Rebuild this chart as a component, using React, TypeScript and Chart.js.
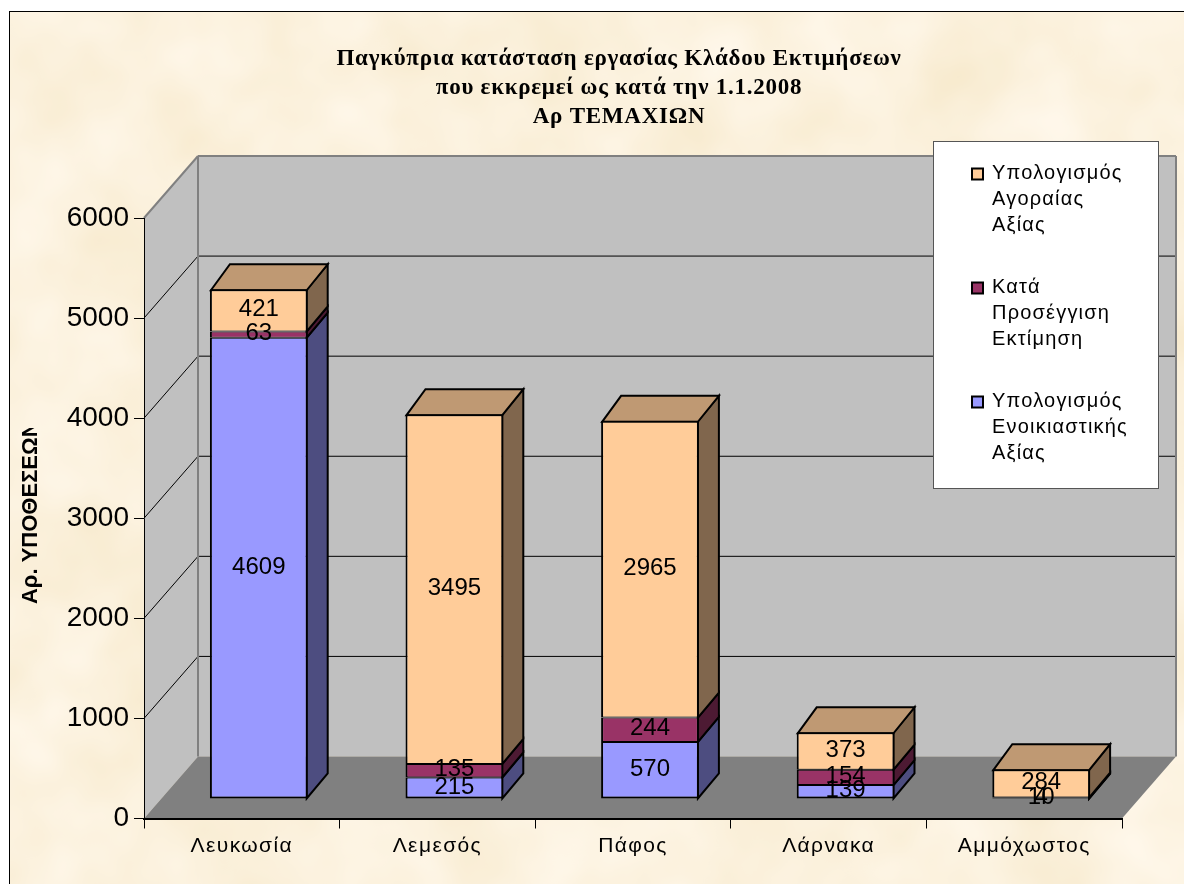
import React, { useEffect, useRef } from "react";
import { Chart, registerables } from "chart.js";

Chart.register(...registerables);

const categories = ["Λευκωσία", "Λεμεσός", "Πάφος", "Λάρνακα", "Αμμόχωστος"];
const rentValues = [4609, 215, 570, 139, 4];
const approxValues = [63, 135, 244, 154, 10];
const marketValues = [421, 3495, 2965, 373, 284];
const titleLines = [
  "Παγκύπρια κατάσταση εργασίας Κλάδου Εκτιμήσεων",
  "που εκκρεμεί ως κατά την 1.1.2008",
  "Αρ ΤΕΜΑΧΙΩΝ",
];
const yTitle = "Αρ. ΥΠΟΘΕΣΕΩΝ";
const rentLines = ["Υπολογισμός", "Ενοικιαστικής", "Αξίας"];
const approxLines = ["Κατά", "Προσέγγιση", "Εκτίμηση"];
const marketLines = ["Υπολογισμός", "Αγοραίας", "Αξίας"];

const SANS = '"Liberation Sans", Arial, sans-serif';
const WALL = { x: 54, y: -62 };
const BAR_SHIFT = { x: 17, y: -19.5 };
const BAR_DEPTH = { x: 20, y: -25 };

const poly = (ctx: any, pts: number[][], fill: string | null, stroke?: string, lw = 1) => {
  ctx.beginPath();
  pts.forEach((p, i) => (i ? ctx.lineTo(p[0], p[1]) : ctx.moveTo(p[0], p[1])));
  ctx.closePath();
  if (fill) {
    ctx.fillStyle = fill;
    ctx.fill();
  }
  if (stroke) {
    ctx.strokeStyle = stroke;
    ctx.lineWidth = lw;
    ctx.lineJoin = "miter";
    ctx.stroke();
  }
};

const seg = (ctx: any, a: number[], b: number[], color: string, lw: number) => {
  ctx.beginPath();
  ctx.moveTo(a[0], a[1]);
  ctx.lineTo(b[0], b[1]);
  ctx.strokeStyle = color;
  ctx.lineWidth = lw;
  ctx.stroke();
};

const wrapped = new WeakSet();

const scene3d = {
  id: "scene3d",
  afterLayout(chart: any) {
    const t = chart.titleBlock;
    t.left = 19;
    t.right = 1219;
    const { x, y } = chart.scales;
    if (wrapped.has(x)) return;
    wrapped.add(x);
    const ctx = chart.ctx;
    const tdraw = t.draw.bind(t);
    t.draw = () => {
      ctx.save();
      ctx.letterSpacing = "0.75px";
      tdraw();
      ctx.restore();
    };
    const dl = x.drawLabels.bind(x);
    x.drawLabels = (a: any) => {
      ctx.save();
      ctx.letterSpacing = "1.4px";
      dl(a);
      ctx.restore();
    };
    const dt = y.drawTitle.bind(y);
    y.drawTitle = () => {
      ctx.save();
      ctx.beginPath();
      ctx.rect(0, 428, 100, 300);
      ctx.clip();
      ctx.translate(-2.5, -5.5);
      dt();
      ctx.restore();
    };
  },
  beforeDraw(chart: any) {
    const ctx = chart.ctx;
    const { left, right, bottom } = chart.chartArea;
    const y = chart.scales.y;
    const top = y.getPixelForValue(6000);
    ctx.save();
    ctx.strokeStyle = "#000";
    ctx.lineWidth = 1;
    ctx.strokeRect(9.5, 11.5, 1300, 1000);
    // left wall, back wall, floor
    poly(ctx, [[left, top], [left + WALL.x, top + WALL.y], [left + WALL.x, bottom + WALL.y], [left, bottom]], "#C0C0C0");
    poly(ctx, [[left + WALL.x, top + WALL.y], [right + WALL.x, top + WALL.y], [right + WALL.x, bottom + WALL.y], [left + WALL.x, bottom + WALL.y]], "#C0C0C0");
    poly(ctx, [[left, bottom], [right, bottom], [right + WALL.x, bottom + WALL.y], [left + WALL.x, bottom + WALL.y]], "#808080");
    // grid lines
    y.ticks.forEach((t: any) => {
      if (t.value === 0 || t.value === 6000) return;
      const py = y.getPixelForValue(t.value);
      seg(ctx, [left, py], [left + WALL.x, py + WALL.y], "#000", 1);
      seg(ctx, [left + WALL.x, py + WALL.y], [right + WALL.x, py + WALL.y], "#000", 1);
    });
    // wall outlines
    seg(ctx, [left, top], [left + WALL.x, top + WALL.y], "#808080", 2);
    seg(ctx, [left + WALL.x, top + WALL.y], [right + WALL.x, top + WALL.y], "#808080", 2);
    seg(ctx, [left + WALL.x, top + WALL.y], [left + WALL.x, bottom + WALL.y], "#808080", 2);
    seg(ctx, [right + WALL.x, top + WALL.y], [right + WALL.x, bottom + WALL.y], "#808080", 2);
    ctx.restore();
  },
  beforeDatasetsDraw(chart: any) {
    const ctx = chart.ctx;
    ctx.save();
    ctx.translate(BAR_SHIFT.x, BAR_SHIFT.y);
    const n = chart.data.labels.length;
    const count = chart.data.datasets.length;
    for (let c = 0; c < n; c++) {
      for (let d = 0; d < count; d++) {
        const ds = chart.data.datasets[d];
        const el = chart.getDatasetMeta(d).data[c];
        const { x, y, base, width } = el.getProps(["x", "y", "base", "width"], true);
        const r = x + width / 2;
        const l = x - width / 2;
        poly(ctx, [[r - 1, y], [r + BAR_DEPTH.x, y + BAR_DEPTH.y], [r + BAR_DEPTH.x, base + BAR_DEPTH.y], [r - 1, base]], ds.sideColor, "#000", 2);
        if (d === count - 1) {
          poly(ctx, [[l + 1, y + 1], [l + BAR_DEPTH.x, y + BAR_DEPTH.y], [r + BAR_DEPTH.x, y + BAR_DEPTH.y], [r - 1, y + 1]], ds.topColor, "#000", 2);
        }
      }
    }
  },
  afterDatasetsDraw(chart: any) {
    const ctx = chart.ctx;
    ctx.font = `24px ${SANS}`;
    ctx.fillStyle = "#000";
    ctx.textAlign = "center";
    ctx.textBaseline = "middle";
    chart.data.datasets.forEach((ds: any, d: number) => {
      chart.getDatasetMeta(d).data.forEach((el: any, i: number) => {
        const { x, y, base } = el.getProps(["x", "y", "base"], true);
        ctx.fillText(String(ds.data[i]), x, (y + base) / 2 - 1);
      });
    });
    ctx.restore();
  },
  afterDraw(chart: any) {
    const ctx = chart.ctx;
    ctx.save();
    ctx.fillStyle = "#fff";
    ctx.strokeStyle = "#555";
    ctx.lineWidth = 1;
    ctx.fillRect(933.5, 141.5, 225, 347);
    ctx.strokeRect(933.5, 141.5, 225, 347);
    const tops = [173, 287, 401];
    const groups = [2, 1, 0];
    ctx.font = `20px ${SANS}`;
    ctx.textBaseline = "middle";
    ctx.textAlign = "left";
    ctx.letterSpacing = "1.2px";
    groups.forEach((d, gi) => {
      const ds = chart.data.datasets[d];
      ctx.fillStyle = ds.backgroundColor;
      ctx.strokeStyle = "#000";
      ctx.lineWidth = 2;
      ctx.fillRect(972, tops[gi] - 4.5, 11, 11);
      ctx.strokeRect(972, tops[gi] - 4.5, 11, 11);
      ctx.fillStyle = "#000";
      ds.lines.forEach((line: string, j: number) => {
        ctx.fillText(line, 992, tops[gi] + j * 26);
      });
    });
    ctx.restore();
  },
};

export default function App() {
  const ref = useRef<HTMLCanvasElement>(null);
  useEffect(() => {
    const chart = new Chart(ref.current as any, {
      type: "bar",
      data: {
        labels: categories,
        datasets: [
          { label: rentLines.join(" "), lines: rentLines, data: rentValues, backgroundColor: "#9999FF", sideColor: "#4D4D80", topColor: "#7373BF", borderWidth: { top: 1, bottom: 2, left: 2, right: 2 } },
          { label: approxLines.join(" "), lines: approxLines, data: approxValues, backgroundColor: "#993366", sideColor: "#4D1A33", topColor: "#73264D", borderWidth: { top: 1, bottom: 1, left: 2, right: 2 } },
          { label: marketLines.join(" "), lines: marketLines, data: marketValues, backgroundColor: "#FFCC99", sideColor: "#80664D", topColor: "#BF9973", borderWidth: { top: 2, bottom: 1, left: 2, right: 2 } },
        ].map((d) => ({
          ...d,
          borderColor: "#000",
          borderSkipped: false,
          categoryPercentage: 1,
          barPercentage: 0.5,
          clip: false,
        })) as any,
      },
      plugins: [scene3d as any],
      options: {
        animation: false,
        responsive: false,
        layout: { padding: { left: 20, right: 62, top: 0, bottom: 0 } },
        plugins: {
          legend: { display: false },
          tooltip: { enabled: false },
          title: {
            display: true,
            text: titleLines,
            color: "#000",
            font: { family: '"Liberation Serif", serif', size: 23, weight: "bold", lineHeight: 29 / 23 },
            padding: { top: 44.5, bottom: 86.5 },
          },
        },
        scales: {
          x: {
            stacked: true,
            grid: { drawOnChartArea: false, color: "#000", tickLength: 10, offset: true },
            border: { color: "#000", width: 2 },
            ticks: { color: "#000", font: { family: SANS, size: 21 }, padding: 5, maxRotation: 0 },
            afterFit(s: any) { s.height = 65.5; },
          },
          y: {
            stacked: true,
            min: 0,
            max: 6000,
            grid: { drawOnChartArea: false, color: "#000", tickLength: 10 },
            border: { color: "#000", width: 1 },
            ticks: { stepSize: 1000, color: "#000", font: { family: SANS, size: 28 }, padding: 5, callback: (v: any) => String(v) },
            title: { display: true, text: yTitle, color: "#000", font: { family: SANS, size: 22, weight: "bold" }, padding: 0 },
            afterFit(s: any) { s.width = 124; },
          },
        },
      } as any,
    });
    return () => chart.destroy();
  }, []);
  return (
    <div style={{ position: "fixed", left: 0, top: 0, width: 1184, height: 884, overflow: "hidden", background: "#fff" }}>
      <svg width={1184} height={884} style={{ position: "absolute", left: 0, top: 0 }}>
        <filter id="parchment" x="0" y="0" width="100%" height="100%" colorInterpolationFilters="sRGB">
          <feTurbulence type="fractalNoise" baseFrequency="0.01" numOctaves={3} seed={7} />
          <feColorMatrix type="matrix" values="0.04 0 0 0 0.965  0.07 0 0 0 0.91  0.15 0 0 0 0.79  0 0 0 0 1" />
        </filter>
        <rect x={9} y={11} width={1175} height={873} filter="url(#parchment)" />
      </svg>
      <canvas ref={ref} width={1184} height={884} style={{ position: "absolute", left: 0, top: 0 }} />
    </div>
  );
}
